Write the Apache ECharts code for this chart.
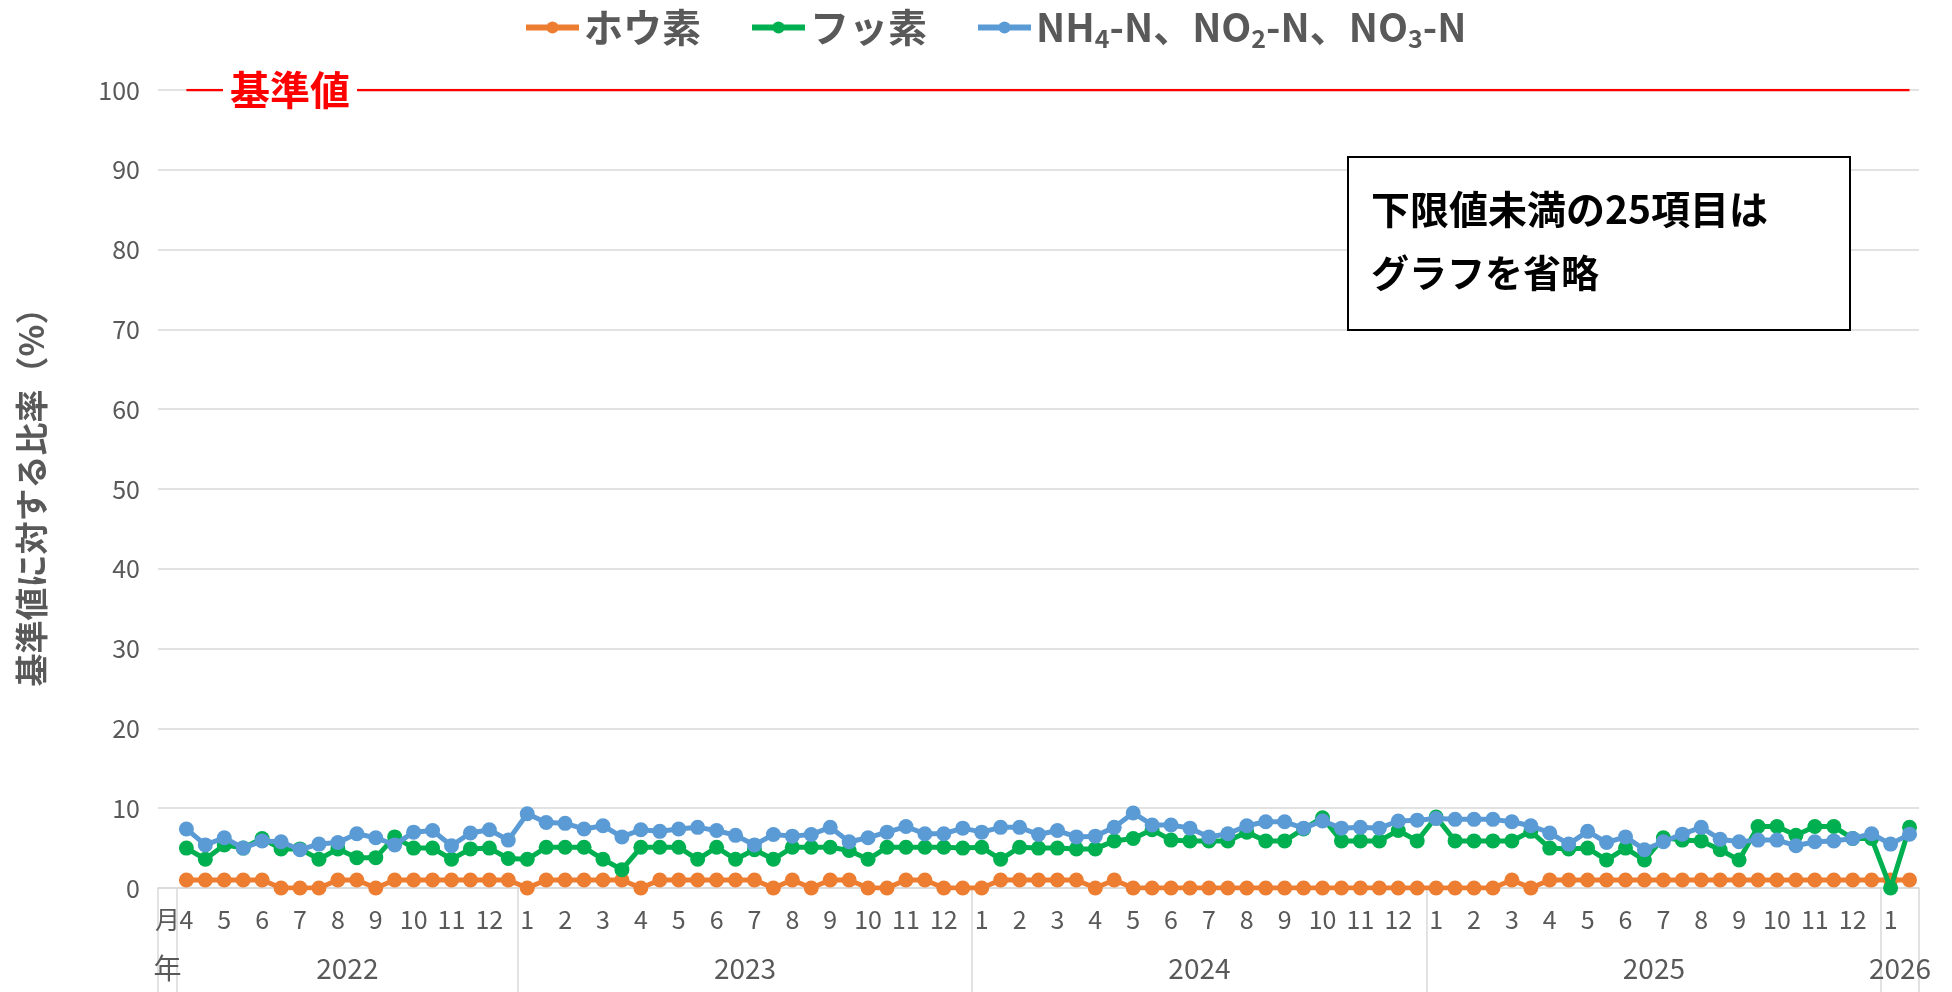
<!DOCTYPE html>
<html>
<head>
<meta charset="utf-8">
<script src="https://cdn.jsdelivr.net/npm/echarts@6/dist/echarts.min.js"></script>
<style>
html, body { margin: 0; padding: 0; background: #fff; }
#chart { width: 1952px; height: 992px; }
</style>
</head>
<body>
<div id="chart"></div>
<script>
var years = ['2022', '2023', '2024', '2025', '2026'];
var monthsByYear = [
    [4, 5, 6, 7, 8, 9, 10, 11, 12],
    [1, 2, 3, 4, 5, 6, 7, 8, 9, 10, 11, 12],
    [1, 2, 3, 4, 5, 6, 7, 8, 9, 10, 11, 12],
    [1, 2, 3, 4, 5, 6, 7, 8, 9, 10, 11, 12],
    [1]
];
// two measurements per month
var boron = [
    1, 1, 1, 1, 1, 0, 0, 0, 1, 1, 0, 1, 1, 1, 1, 1, 1, 1,
    0, 1, 1, 1, 1, 1, 0, 1, 1, 1, 1, 1, 1, 0, 1, 0, 1, 1, 0, 0, 1, 1, 0, 0,
    0, 1, 1, 1, 1, 1, 0, 1, 0, 0, 0, 0, 0, 0, 0, 0, 0, 0, 0, 0, 0, 0, 0, 0,
    0, 0, 0, 0, 1, 0, 1, 1, 1, 1, 1, 1, 1, 1, 1, 1, 1, 1, 1, 1, 1, 1, 1, 1,
    1, 1
];
var fluorine = [
    5.0, 3.6, 5.4, 5.0, 6.2, 4.9, 4.9, 3.6, 4.9, 3.8, 3.8, 6.4, 5.0, 5.0, 3.6, 4.9, 5.0, 3.7,
    3.6, 5.1, 5.1, 5.1, 3.6, 2.3, 5.1, 5.1, 5.1, 3.6, 5.1, 3.6, 4.8, 3.6, 5.1, 5.1, 5.1, 4.7, 3.6, 5.1, 5.1, 5.1, 5.1, 5.0,
    5.1, 3.6, 5.1, 5.0, 5.0, 4.9, 4.9, 5.9, 6.2, 7.3, 6.0, 5.9, 5.9, 5.9, 7.0, 5.9, 5.9, 7.4, 8.8, 5.9, 5.9, 5.9, 7.2, 5.9,
    8.9, 5.9, 5.9, 5.9, 5.9, 7.1, 5.0, 4.9, 5.0, 3.5, 5.0, 3.5, 6.3, 6.0, 5.9, 4.8, 3.5, 7.7, 7.7, 6.6, 7.7, 7.7, 6.2, 6.2,
    0, 7.6
];
var nitrogen = [
    7.4, 5.4, 6.3, 5.0, 5.9, 5.8, 4.8, 5.5, 5.7, 6.8, 6.3, 5.4, 7.0, 7.2, 5.3, 6.9, 7.3, 6.0,
    9.3, 8.2, 8.1, 7.4, 7.8, 6.4, 7.3, 7.1, 7.4, 7.6, 7.2, 6.6, 5.4, 6.7, 6.5, 6.7, 7.6, 5.8, 6.3, 7.0, 7.7, 6.8, 6.8, 7.5,
    7.0, 7.6, 7.6, 6.7, 7.2, 6.4, 6.5, 7.6, 9.4, 7.9, 7.9, 7.5, 6.4, 6.8, 7.8, 8.3, 8.3, 7.5, 8.4, 7.5, 7.6, 7.5, 8.4, 8.5,
    8.7, 8.6, 8.6, 8.6, 8.3, 7.8, 6.9, 5.5, 7.1, 5.7, 6.4, 4.8, 5.8, 6.75, 7.6, 6.1, 5.8, 6.0, 6.0, 5.3, 5.8, 5.9, 6.2, 6.8,
    5.5, 6.75
];
var standardValue = 100;
var seriesNames = ['ホウ素', 'フッ素', 'NH4-N、NO2-N、NO3-N'];
var seriesColors = ['#ED7D31', '#00B050', '#5B9BD5'];

var FONT = '"Noto Sans CJK JP", "Noto Sans", sans-serif';
var GRAY = '#595959';
var GRID = '#d9d9d9';

// month row: first column holds the "月"/"年" row titles
var monthLabels = ['月'];
var bounds = [0, 1];
var yearCenters = [];
var cat = 1;
years.forEach(function (y, k) {
    var start = cat;
    monthsByYear[k].forEach(function (m) {
        monthLabels.push(String(m));
        monthLabels.push('');
        cat += 2;
    });
    bounds.push(cat);
    yearCenters.push({ slot: start + cat, text: y });
});

// year row uses half-category slots so labels can sit in the middle of each year
var nSlots = monthLabels.length * 2 + 1;
var yearSlotText = [];
var yearSlotKeys = [];
for (var s = 0; s < nSlots; s++) { yearSlotText.push(''); yearSlotKeys.push('s' + s); }
yearSlotText[1] = '年';
yearCenters.forEach(function (c) { yearSlotText[c.slot] = c.text; });
var boundSlots = bounds.map(function (b) { return b * 2; });

function withHead(arr) { return [null].concat(arr); }
var standardLine = monthLabels.map(function (m, i) { return i === 0 ? null : standardValue; });

var chart = echarts.init(document.getElementById('chart'));

var lineSeries = [boron, fluorine, nitrogen].map(function (vals, k) {
    return {
        name: seriesNames[k],
        type: 'line',
        data: withHead(vals),
        symbol: 'circle',
        symbolSize: 15,
        showSymbol: true,
        showAllSymbol: true,
        itemStyle: { color: seriesColors[k] },
        lineStyle: { color: seriesColors[k], width: 5 },
        z: 3 + k
    };
});

option = {
    animation: false,
    textStyle: { fontFamily: FONT },
    grid: { left: 158, right: 33, top: 90, bottom: 104 },
    legend: {
        data: seriesNames,
        left: 518,
        top: 3,
        itemWidth: 53,
        itemHeight: 15,
        itemGap: 48,
        lineStyle: { width: 6 },
        textStyle: {
            color: GRAY, fontSize: 39, fontWeight: 'bold', fontFamily: FONT,
            rich: { sub: { fontSize: 25, fontWeight: 'bold', color: GRAY, fontFamily: FONT, padding: [22, 0, 0, 0] } }
        },
        formatter: function (name) {
            if (name === seriesNames[2]) return 'NH{sub|4}-N、NO{sub|2}-N、NO{sub|3}-N';
            return name;
        }
    },
    xAxis: [{
        type: 'category',
        data: monthLabels,
        boundaryGap: true,
        position: 'bottom',
        axisLine: { onZero: false, lineStyle: { color: GRID, width: 1.5 } },
        axisTick: { show: false },
        axisLabel: { interval: 0, color: GRAY, fontSize: 25, margin: 19, fontFamily: FONT }
    }, {
        type: 'category',
        data: yearSlotKeys,
        boundaryGap: false,
        position: 'bottom',
        axisLine: { show: false, onZero: false },
        axisTick: {
            show: true,
            length: 110,
            interval: function (idx) { return boundSlots.indexOf(idx) >= 0; },
            lineStyle: { color: GRID, width: 1.5 }
        },
        axisLabel: {
            interval: 0, color: GRAY, fontSize: 28, margin: 66, fontFamily: FONT,
            formatter: function (v, idx) { return yearSlotText[idx] || ''; }
        },
        splitLine: { show: false }
    }],
    yAxis: {
        type: 'value',
        min: 0,
        max: 100,
        interval: 10,
        name: '基準値に対する比率（%）',
        nameLocation: 'middle',
        nameRotate: 90,
        nameGap: 110,
        nameTextStyle: { color: GRAY, fontSize: 33, fontWeight: 'bold', fontFamily: FONT },
        axisLine: { show: false },
        axisTick: { show: false },
        axisLabel: { color: GRAY, fontSize: 25, margin: 18, fontFamily: FONT },
        splitLine: { lineStyle: { color: GRID, width: 1.5 } }
    },
    series: [{
        name: '基準値',
        type: 'line',
        data: standardLine,
        symbol: 'none',
        lineStyle: { color: '#FF0000', width: 2.5 },
        itemStyle: { color: '#FF0000' },
        z: 2
    }].concat(lineSeries)
};
chart.setOption(option);

var labelPt = chart.convertToPixel({ xAxisIndex: 0, yAxisIndex: 0 }, [7, standardValue]);
chart.setOption({
    graphic: [{
        type: 'text',
        z: 100,
        x: labelPt[0] - 10,
        y: labelPt[1],
        style: {
            text: '基準値',
            fill: '#FF0000',
            font: 'bold 40px ' + FONT,
            align: 'center',
            verticalAlign: 'middle',
            backgroundColor: '#fff',
            padding: [0, 7]
        }
    }, {
        type: 'rect',
        z: 100,
        shape: { x: 1348, y: 157, width: 502, height: 173 },
        style: { fill: '#fff', stroke: '#000', lineWidth: 2 }
    }, {
        type: 'text',
        z: 101,
        x: 1371,
        y: 209,
        style: { text: '下限値未満の25項目は', fill: '#000', font: 'bold 39px ' + FONT, verticalAlign: 'middle' }
    }, {
        type: 'text',
        z: 101,
        x: 1371,
        y: 273,
        style: { text: 'グラフを省略', fill: '#000', font: 'bold 38px ' + FONT, verticalAlign: 'middle' }
    }]
});
</script>
</body>
</html>
